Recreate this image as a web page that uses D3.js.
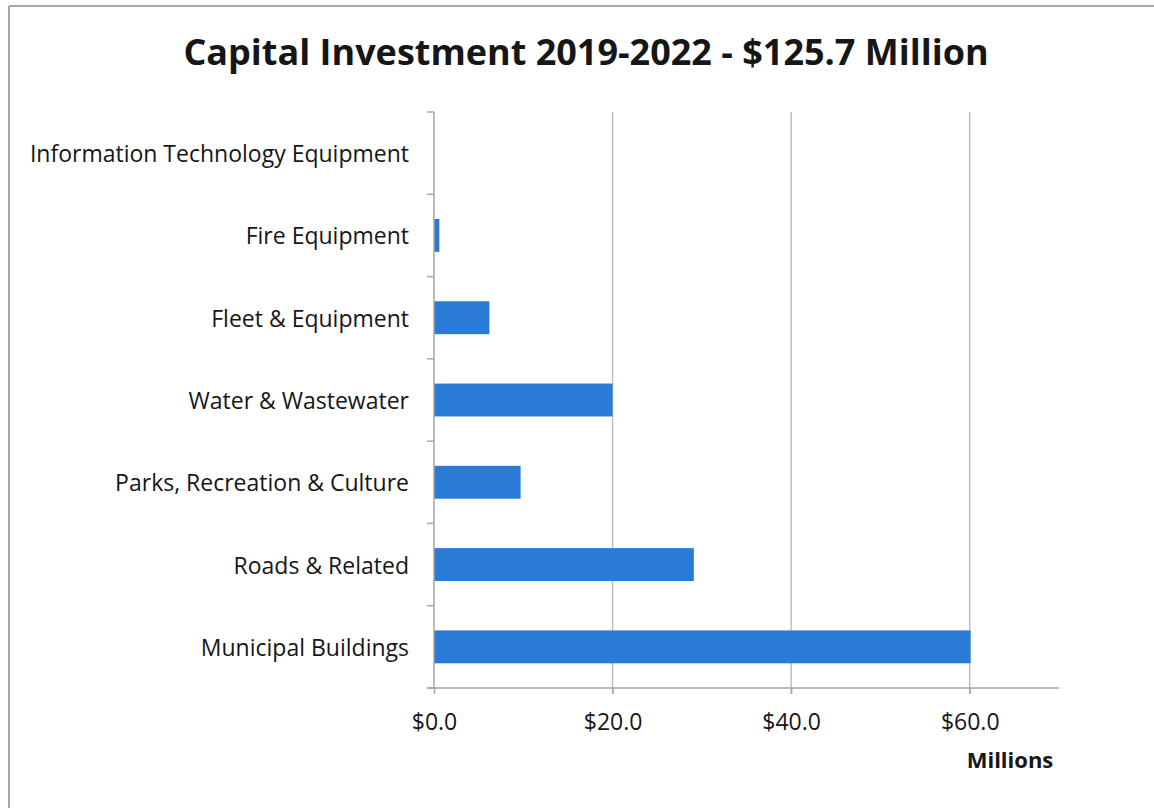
<!DOCTYPE html>
<html>
<head>
<meta charset="utf-8">
<script src="https://cdn.jsdelivr.net/npm/d3@7"></script>
<style>
  html, body { margin: 0; padding: 0; background: #fff; }
  svg { display: block; font-family: "Open Sans", "Noto Sans", sans-serif; }
</style>
</head>
<body>
<svg id="chart" width="1154" height="808"></svg>
<script>
// Capital investment by category, 2019-2022 ($ millions)
const categories = [
  "Information Technology Equipment",
  "Fire Equipment",
  "Fleet & Equipment",
  "Water & Wastewater",
  "Parks, Recreation & Culture",
  "Roads & Related",
  "Municipal Buildings"
];
const values = [0.0, 0.6, 6.2, 20.0, 9.7, 29.1, 60.1];
const xTicks = [0, 20, 40, 60];
const xTickLabels = ["$0.0", "$20.0", "$40.0", "$60.0"];
const title = "Capital Investment 2019-2022 - $125.7 Million";
const axisTitle = "Millions";

const svg = d3.select("#chart");
const margin = { left: 434, right: 95, top: 112, bottom: 120 };
const W = 1154, H = 808;
const ink = "#161616";

// Outer frame (top and left edges)
svg.append("line").attr("x1", 9).attr("x2", W).attr("y1", 6).attr("y2", 6)
  .attr("stroke", "#a6a6a6").attr("stroke-width", 2);
svg.append("line").attr("x1", 9).attr("x2", 9).attr("y1", 6).attr("y2", H)
  .attr("stroke", "#a6a6a6").attr("stroke-width", 2);

const x = d3.scaleLinear().domain([0, 70]).range([margin.left, W - margin.right]);
const y = d3.scaleBand().domain(categories).range([margin.top, H - margin.bottom])
  .paddingInner(0.6).paddingOuter(0.3);

// Vertical gridlines
svg.append("g").selectAll("line").data(xTicks.filter(d => d > 0)).join("line")
  .attr("x1", d => x(d)).attr("x2", d => x(d))
  .attr("y1", margin.top).attr("y2", H - margin.bottom + 6)
  .attr("stroke", "#bfbfbf").attr("stroke-width", 1.5);

// Bars
svg.append("g").selectAll("rect").data(categories).join("rect")
  .attr("x", x(0))
  .attr("y", d => y(d))
  .attr("width", (d, i) => x(values[i]) - x(0))
  .attr("height", y.bandwidth())
  .attr("fill", "#2a7ad8");

// Category axis
const catTicks = d3.range(categories.length + 1).map(i => margin.top + i * (H - margin.bottom - margin.top) / categories.length);
const gy = svg.append("g");
gy.append("line").attr("x1", x(0)).attr("x2", x(0))
  .attr("y1", margin.top).attr("y2", H - margin.bottom)
  .attr("stroke", "#a6a6a6").attr("stroke-width", 1.5);
gy.selectAll("line.tick").data(catTicks).join("line").attr("class", "tick")
  .attr("x1", x(0) - 7).attr("x2", x(0))
  .attr("y1", d => d).attr("y2", d => d)
  .attr("stroke", "#a6a6a6").attr("stroke-width", 1.5);
gy.selectAll("text").data(categories).join("text")
  .attr("x", x(0) - 25)
  .attr("y", d => y(d) + y.bandwidth() / 2)
  .attr("text-anchor", "end").attr("dominant-baseline", "central")
  .attr("font-size", 23).attr("fill", ink)
  .text(d => d);

// Value axis
const gx = svg.append("g").attr("transform", `translate(0,${H - margin.bottom})`);
gx.call(d3.axisBottom(x).tickValues(xTicks).tickFormat((d, i) => xTickLabels[i]).tickSize(6).tickPadding(20));
gx.select(".domain").attr("stroke", "#a6a6a6").attr("stroke-width", 1.5)
  .attr("d", `M${x(0) - 7},0H${x(70)}`);
gx.selectAll(".tick line").attr("stroke", "#a6a6a6").attr("stroke-width", 1.5);
gx.selectAll(".tick text").attr("font-size", 23).attr("fill", ink)
  .attr("font-family", "'Open Sans', sans-serif");

svg.append("text").attr("x", 1010).attr("y", 768).attr("text-anchor", "middle")
  .attr("font-size", 22).attr("font-weight", "bold").attr("fill", ink)
  .text(axisTitle);

// Title
svg.append("text").attr("x", 586).attr("y", 65).attr("text-anchor", "middle")
  .attr("font-size", 36).attr("font-weight", "bold").attr("fill", ink)
  .text(title);
</script>
</body>
</html>
